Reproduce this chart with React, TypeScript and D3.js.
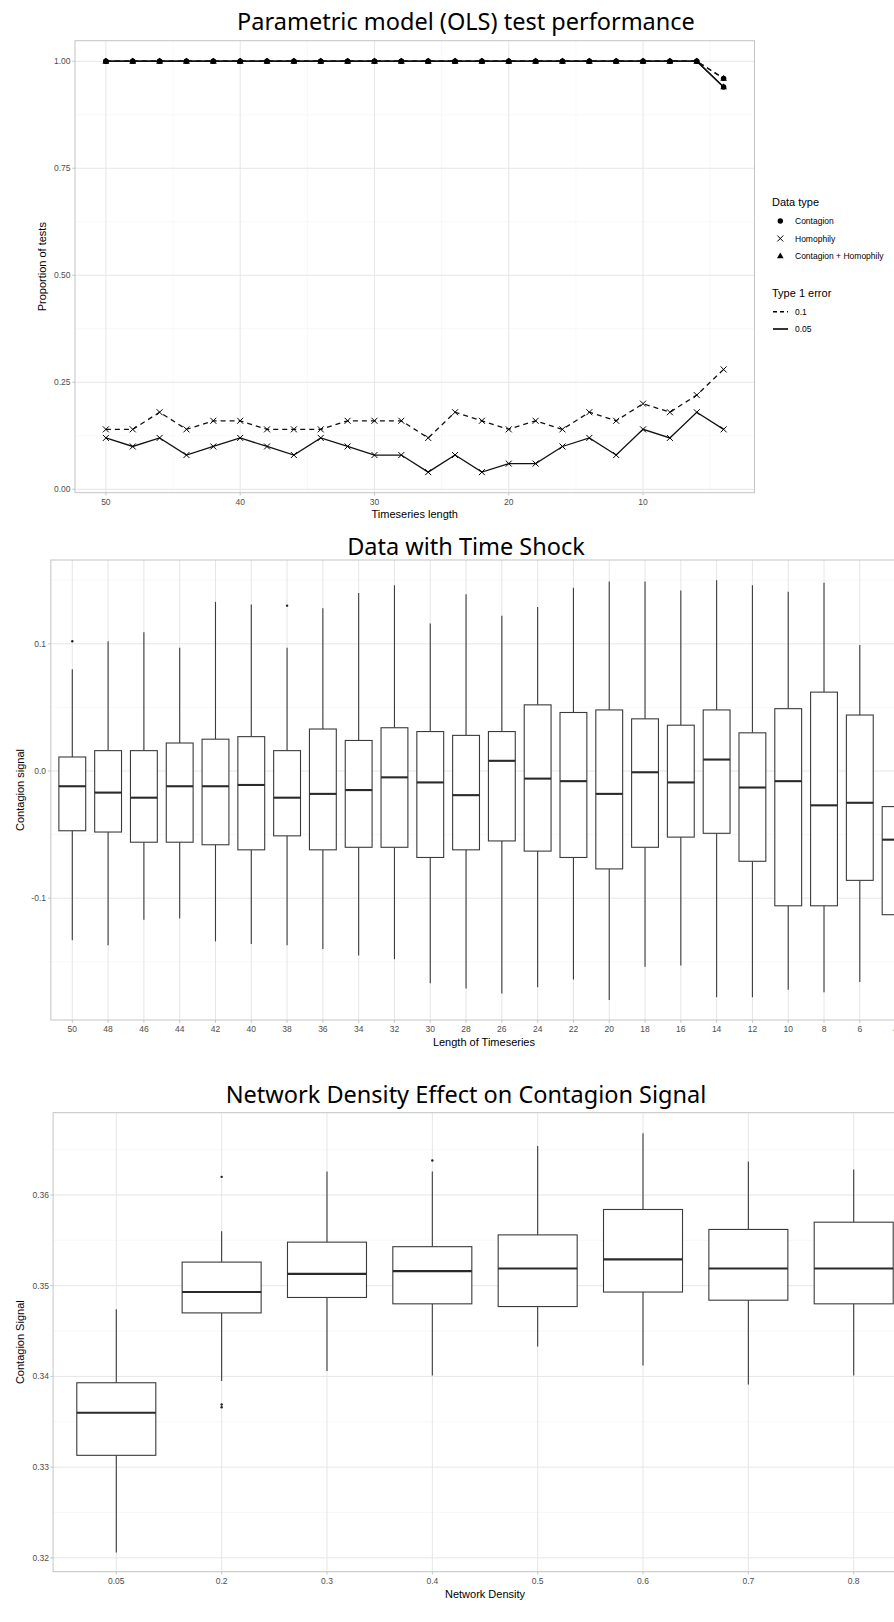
import React from 'react';
import * as d3 from 'd3';

// ---- top chart: OLS test performance ----
const seriesLength = [50, 48, 46, 44, 42, 40, 38, 36, 34, 32, 30, 28, 26, 24, 22, 20, 18, 16, 14, 12, 10, 8, 6, 4];
const contagion10 = [1, 1, 1, 1, 1, 1, 1, 1, 1, 1, 1, 1, 1, 1, 1, 1, 1, 1, 1, 1, 1, 1, 1, 0.96];
const contagion05 = [1, 1, 1, 1, 1, 1, 1, 1, 1, 1, 1, 1, 1, 1, 1, 1, 1, 1, 1, 1, 1, 1, 1, 0.94];
const combined10 = [1, 1, 1, 1, 1, 1, 1, 1, 1, 1, 1, 1, 1, 1, 1, 1, 1, 1, 1, 1, 1, 1, 1, 0.96];
const combined05 = [1, 1, 1, 1, 1, 1, 1, 1, 1, 1, 1, 1, 1, 1, 1, 1, 1, 1, 1, 1, 1, 1, 1, 0.94];
const homophily10 = [0.14, 0.14, 0.18, 0.14, 0.16, 0.16, 0.14, 0.14, 0.14, 0.16, 0.16, 0.16, 0.12, 0.18, 0.16, 0.14, 0.16, 0.14, 0.18, 0.16, 0.2, 0.18, 0.22, 0.28];
const homophily05 = [0.12, 0.1, 0.12, 0.08, 0.1, 0.12, 0.1, 0.08, 0.12, 0.1, 0.08, 0.08, 0.04, 0.08, 0.04, 0.06, 0.06, 0.1, 0.12, 0.08, 0.14, 0.12, 0.18, 0.14];
const perfYTicks = [0, 0.25, 0.5, 0.75, 1];
const perfYLabels = ['0.00', '0.25', '0.50', '0.75', '1.00'];
const perfYMinor = [0.125, 0.375, 0.625, 0.875];
const perfXTicks = [50, 40, 30, 20, 10];
const perfXMinor = [45, 35, 25, 15, 5];
const dataTypes = ['Contagion', 'Homophily', 'Contagion + Homophily'];
const errorLevels = ['0.1', '0.05'];

// ---- middle chart: time shock boxplots ----
const shockLengths = ['50', '48', '46', '44', '42', '40', '38', '36', '34', '32', '30', '28', '26', '24', '22', '20', '18', '16', '14', '12', '10', '8', '6', '4'];
const shockLow = [-0.133, -0.137, -0.117, -0.116, -0.134, -0.136, -0.137, -0.14, -0.145, -0.148, -0.167, -0.171, -0.175, -0.17, -0.164, -0.18, -0.154, -0.153, -0.178, -0.178, -0.172, -0.174, -0.166, -0.17];
const shockQ1 = [-0.047, -0.048, -0.056, -0.056, -0.058, -0.062, -0.051, -0.062, -0.06, -0.06, -0.068, -0.062, -0.055, -0.063, -0.068, -0.077, -0.06, -0.052, -0.049, -0.071, -0.106, -0.106, -0.086, -0.113];
const shockMedian = [-0.012, -0.017, -0.021, -0.012, -0.012, -0.011, -0.021, -0.018, -0.015, -0.005, -0.009, -0.019, 0.008, -0.006, -0.008, -0.018, -0.001, -0.009, 0.009, -0.013, -0.008, -0.027, -0.025, -0.054];
const shockQ3 = [0.011, 0.016, 0.016, 0.022, 0.025, 0.027, 0.016, 0.033, 0.024, 0.034, 0.031, 0.028, 0.031, 0.052, 0.046, 0.048, 0.041, 0.036, 0.048, 0.03, 0.049, 0.062, 0.044, -0.028];
const shockHigh = [0.08, 0.102, 0.109, 0.097, 0.133, 0.131, 0.097, 0.128, 0.14, 0.146, 0.116, 0.139, 0.122, 0.129, 0.144, 0.149, 0.149, 0.142, 0.15, 0.146, 0.141, 0.148, 0.099, 0.1];
const shockOutliers = [[0.102], [], [], [], [], [], [0.13], [], [], [], [], [], [], [], [], [], [], [], [], [], [], [], [], []];
const shockYTicks = [-0.1, 0, 0.1];
const shockYLabels = ['-0.1', '0.0', '0.1'];
const shockYMinor = [-0.15, -0.05, 0.05, 0.15];

// ---- bottom chart: network density boxplots ----
const densities = ['0.05', '0.2', '0.3', '0.4', '0.5', '0.6', '0.7', '0.8'];
const densLow = [0.3206, 0.3395, 0.3406, 0.3401, 0.3433, 0.3412, 0.3391, 0.3401];
const densQ1 = [0.3313, 0.347, 0.3487, 0.348, 0.3477, 0.3493, 0.3484, 0.348];
const densMedian = [0.336, 0.3493, 0.3513, 0.3516, 0.3519, 0.3529, 0.3519, 0.3519];
const densQ3 = [0.3393, 0.3526, 0.3548, 0.3543, 0.3556, 0.3584, 0.3562, 0.357];
const densHigh = [0.3474, 0.356, 0.3626, 0.3626, 0.3654, 0.3668, 0.3637, 0.3628];
const densOutliers = [[], [0.362, 0.3369, 0.3366], [], [0.3638], [], [], [], []];
const densYTicks = [0.32, 0.33, 0.34, 0.35, 0.36];
const densYLabels = ['0.32', '0.33', '0.34', '0.35', '0.36'];
const densYMinor = [0.325, 0.335, 0.345, 0.355, 0.365];

const SANS = '"Liberation Sans", Arial, sans-serif';
const TITLE = '"Noto Sans", sans-serif';
const GRID = '#e6e6e6';
const GRID_MINOR = '#f3f3f3';
const BORDER = '#c4c4c4';
const TICK_TEXT = '#4d4d4d';
const INK = '#3b3b3b';

function Marker({ shape, x, y }: { shape: string; x: number; y: number }) {
  if (shape === 'Contagion') return <circle cx={x} cy={y} r={2.7} fill="#000" />;
  if (shape === 'Homophily')
    return (
      <path d={`M${x - 3},${y - 3}L${x + 3},${y + 3}M${x - 3},${y + 3}L${x + 3},${y - 3}`} stroke="#000" strokeWidth={1} />
    );
  return <path d={`M${x},${y - 3.6}L${x + 3.3},${y + 2.3}L${x - 3.3},${y + 2.3}Z`} fill="#000" />;
}

function PerformanceChart() {
  const x = d3.scaleLinear().domain([52.3, 1.7]).range([75, 754.5]);
  const y = d3.scaleLinear().domain([-0.008, 1.048]).range([492.7, 40.7]);
  const [x0, x1] = x.range();
  const [y0, y1] = y.range();
  const line = d3.line<number>().x((_, i) => x(seriesLength[i])).y((d) => y(d));
  const series = [
    { type: 'Homophily', err: '0.1', values: homophily10 },
    { type: 'Homophily', err: '0.05', values: homophily05 },
    { type: 'Contagion', err: '0.1', values: contagion10 },
    { type: 'Contagion', err: '0.05', values: contagion05 },
    { type: 'Contagion + Homophily', err: '0.1', values: combined10 },
    { type: 'Contagion + Homophily', err: '0.05', values: combined05 },
  ];
  return (
    <g>
      <text x={466} y={30} textAnchor="middle" fontFamily={TITLE} fontSize={23.5} fill="#000">
        Parametric model (OLS) test performance
      </text>
      {perfYMinor.map((t) => (
        <line key={'ym' + t} x1={x0} x2={x1} y1={y(t)} y2={y(t)} stroke={GRID_MINOR} strokeWidth={0.6} />
      ))}
      {perfXMinor.map((t) => (
        <line key={'xm' + t} x1={x(t)} x2={x(t)} y1={y0} y2={y1} stroke={GRID_MINOR} strokeWidth={0.6} />
      ))}
      {perfYTicks.map((t) => (
        <line key={'y' + t} x1={x0} x2={x1} y1={y(t)} y2={y(t)} stroke={GRID} strokeWidth={1} />
      ))}
      {perfXTicks.map((t) => (
        <line key={'x' + t} x1={x(t)} x2={x(t)} y1={y0} y2={y1} stroke={GRID} strokeWidth={1} />
      ))}
      {series.map((s, i) => (
        <path
          key={'l' + i}
          d={line(s.values) || ''}
          fill="none"
          stroke="#111"
          strokeWidth={1.3}
          strokeDasharray={s.err === '0.1' ? '5,4' : undefined}
        />
      ))}
      {series.map((s, i) =>
        s.values.map((v, j) => <Marker key={'m' + i + '-' + j} shape={s.type} x={x(seriesLength[j])} y={y(v)} />),
      )}
      <rect x={x0} y={y1} width={x1 - x0} height={y0 - y1} fill="none" stroke={BORDER} strokeWidth={1} />
      {perfYTicks.map((t, i) => (
        <g key={'yt' + t}>
          <line x1={x0 - 2.7} x2={x0} y1={y(t)} y2={y(t)} stroke={BORDER} />
          <text x={x0 - 4.5} y={y(t) + 3} textAnchor="end" fontFamily={SANS} fontSize={8.5} fill={TICK_TEXT}>
            {perfYLabels[i]}
          </text>
        </g>
      ))}
      {perfXTicks.map((t) => (
        <g key={'xt' + t}>
          <line x1={x(t)} x2={x(t)} y1={y0} y2={y0 + 2.7} stroke={BORDER} />
          <text x={x(t)} y={y0 + 12} textAnchor="middle" fontFamily={SANS} fontSize={8.5} fill={TICK_TEXT}>
            {t}
          </text>
        </g>
      ))}
      <text x={(x0 + x1) / 2} y={518} textAnchor="middle" fontFamily={SANS} fontSize={11} fill="#000">
        Timeseries length
      </text>
      <text
        transform={`translate(46,${(y0 + y1) / 2}) rotate(-90)`}
        textAnchor="middle"
        fontFamily={SANS}
        fontSize={11}
        fill="#000"
      >
        Proportion of tests
      </text>
      {/* legend */}
      <text x={772} y={205.5} fontFamily={SANS} fontSize={11} fill="#000">
        Data type
      </text>
      {dataTypes.map((d, i) => (
        <g key={'lg' + d}>
          <Marker shape={d} x={780.3} y={221 + i * 17.5} />
          <text x={795} y={221 + i * 17.5 + 3} fontFamily={SANS} fontSize={8.5} fill="#000">
            {d}
          </text>
        </g>
      ))}
      <text x={772} y={297} fontFamily={SANS} fontSize={11} fill="#000">
        Type 1 error
      </text>
      {errorLevels.map((e, i) => (
        <g key={'le' + e}>
          <line
            x1={773}
            x2={788}
            y1={311.7 + i * 17.3}
            y2={311.7 + i * 17.3}
            stroke="#000"
            strokeWidth={1.6}
            strokeDasharray={e === '0.1' ? '4,3' : undefined}
          />
          <text x={795} y={311.7 + i * 17.3 + 3} fontFamily={SANS} fontSize={8.5} fill="#000">
            {e}
          </text>
        </g>
      ))}
    </g>
  );
}

type BoxProps = {
  title: string;
  titleY: number;
  cats: string[];
  low: number[];
  q1: number[];
  med: number[];
  q3: number[];
  high: number[];
  outliers: number[][];
  yDomain: [number, number];
  yRange: [number, number];
  xRange: [number, number];
  yTicks: number[];
  yLabels: string[];
  yMinor: number[];
  xTitle: string;
  yTitle: string;
  labelRight: number;
};

function BoxChart(p: BoxProps) {
  const x = d3.scalePoint<string>().domain(p.cats).range(p.xRange);
  const y = d3.scaleLinear().domain(p.yDomain).range(p.yRange);
  const step = x.step();
  const px0 = p.xRange[0] - 0.6 * step;
  const px1 = p.xRange[1] + 0.6 * step;
  const [y0, y1] = p.yRange;
  const bw = step * 0.75;
  return (
    <g>
      <text x={466} y={p.titleY} textAnchor="middle" fontFamily={TITLE} fontSize={23.5} fill="#000">
        {p.title}
      </text>
      {p.yMinor.map((t) => (
        <line key={'ym' + t} x1={px0} x2={px1} y1={y(t)} y2={y(t)} stroke={GRID_MINOR} strokeWidth={0.6} />
      ))}
      {p.yTicks.map((t) => (
        <line key={'y' + t} x1={px0} x2={px1} y1={y(t)} y2={y(t)} stroke={GRID} strokeWidth={1} />
      ))}
      {p.cats.map((c) => (
        <line key={'x' + c} x1={x(c)!} x2={x(c)!} y1={y0} y2={y1} stroke={GRID} strokeWidth={1} />
      ))}
      {p.cats.map((c, i) => {
        const cx = x(c)!;
        return (
          <g key={'b' + c} stroke={INK}>
            <line x1={cx} x2={cx} y1={y(p.high[i])} y2={y(p.q3[i])} strokeWidth={1.1} />
            <line x1={cx} x2={cx} y1={y(p.q1[i])} y2={y(p.low[i])} strokeWidth={1.1} />
            <rect x={cx - bw / 2} y={y(p.q3[i])} width={bw} height={y(p.q1[i]) - y(p.q3[i])} fill="#fff" strokeWidth={1.1} />
            <line x1={cx - bw / 2} x2={cx + bw / 2} y1={y(p.med[i])} y2={y(p.med[i])} strokeWidth={2.1} stroke="#2a2a2a" />
            {p.outliers[i].map((o, k) => (
              <circle key={k} cx={cx} cy={y(o)} r={1.2} fill="#222" stroke="none" />
            ))}
          </g>
        );
      })}
      <rect x={px0} y={y1} width={px1 - px0} height={y0 - y1} fill="none" stroke={BORDER} strokeWidth={1} />
      {p.yTicks.map((t, i) => (
        <g key={'yt' + t}>
          <line x1={px0 - 2.7} x2={px0} y1={y(t)} y2={y(t)} stroke={BORDER} />
          <text x={p.labelRight} y={y(t) + 3} textAnchor="end" fontFamily={SANS} fontSize={8.5} fill={TICK_TEXT}>
            {p.yLabels[i]}
          </text>
        </g>
      ))}
      {p.cats.map((c) => (
        <g key={'xt' + c}>
          <line x1={x(c)!} x2={x(c)!} y1={y0} y2={y0 + 2.7} stroke={BORDER} />
          <text x={x(c)!} y={y0 + 12} textAnchor="middle" fontFamily={SANS} fontSize={8.5} fill={TICK_TEXT}>
            {c}
          </text>
        </g>
      ))}
      <text x={(px0 + px1) / 2} y={y0 + 26} textAnchor="middle" fontFamily={SANS} fontSize={11} fill="#000">
        {p.xTitle}
      </text>
      <text
        transform={`translate(24,${(y0 + y1) / 2}) rotate(-90)`}
        textAnchor="middle"
        fontFamily={SANS}
        fontSize={11}
        fill="#000"
      >
        {p.yTitle}
      </text>
    </g>
  );
}

export default function App() {
  return (
    <svg
      width={894}
      height={1622}
      viewBox="0 0 894 1622"
      style={{ position: 'absolute', left: 0, top: 0, background: '#fff' }}
    >
      <rect width={894} height={1622} fill="#fff" />
      <PerformanceChart />
      <BoxChart
        title="Data with Time Shock"
        titleY={555}
        cats={shockLengths}
        low={shockLow}
        q1={shockQ1}
        med={shockMedian}
        q3={shockQ3}
        high={shockHigh}
        outliers={shockOutliers}
        yDomain={[-0.1958, 0.1659]}
        yRange={[1020, 560]}
        xRange={[72.3, 895.6]}
        yTicks={shockYTicks}
        yLabels={shockYLabels}
        yMinor={shockYMinor}
        xTitle="Length of Timeseries"
        yTitle="Contagion signal"
        labelRight={46}
      />
      <BoxChart
        title="Network Density Effect on Contagion Signal"
        titleY={1103}
        cats={densities}
        low={densLow}
        q1={densQ1}
        med={densMedian}
        q3={densQ3}
        high={densHigh}
        outliers={densOutliers}
        yDomain={[0.31847, 0.36907]}
        yRange={[1571.7, 1112.7]}
        xRange={[116.3, 853.7]}
        yTicks={densYTicks}
        yLabels={densYLabels}
        yMinor={densYMinor}
        xTitle="Network Density"
        yTitle="Contagion Signal"
        labelRight={49}
      />
    </svg>
  );
}
